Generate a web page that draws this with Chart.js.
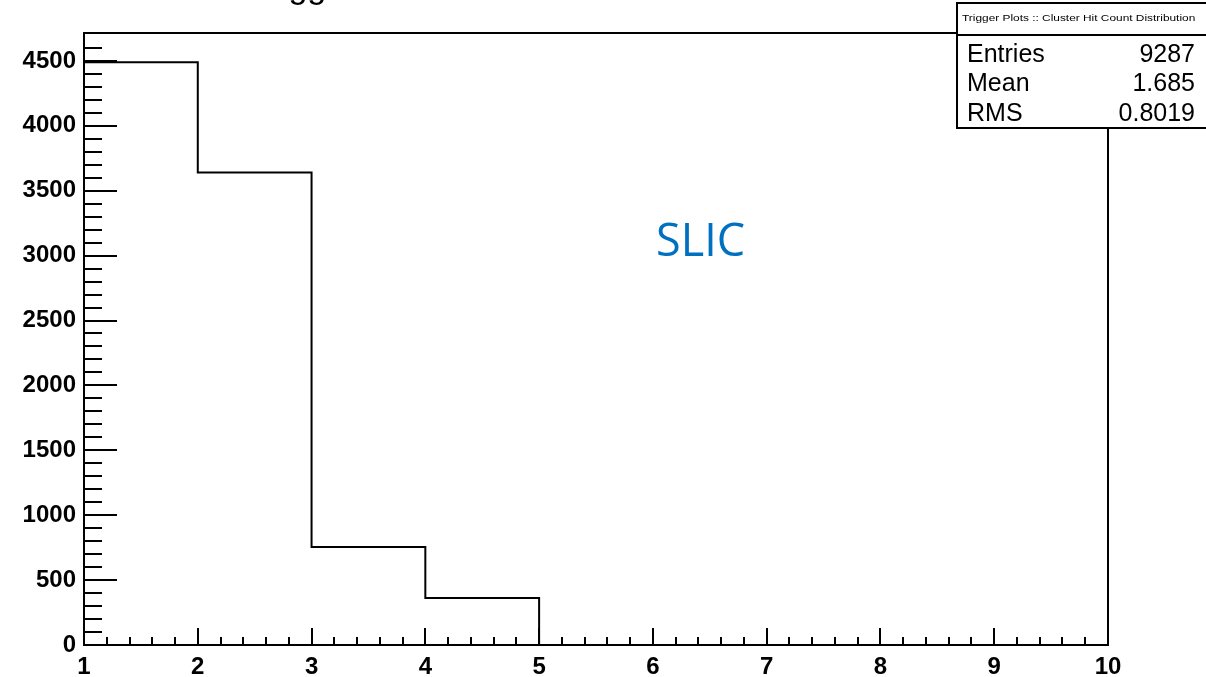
<!DOCTYPE html>
<html>
<head>
<meta charset="utf-8">
<title>Cluster Hit Count Distribution</title>
<script src="https://cdn.jsdelivr.net/npm/chart.js@4.4.1/dist/chart.umd.min.js"></script>
<style>
  html, body { margin: 0; padding: 0; background: #fff; }
  canvas { display: block; }
</style>
</head>
<body>
<canvas id="hist" width="1206" height="677"></canvas>
<script>
// ---- Daten ----
const binEdges  = [1, 2, 3, 4, 5, 6, 7, 8, 9, 10];
const binCounts = [4490, 3640, 755, 362, 0, 0, 0, 0, 0];   // one count per bin

const histTitle  = "Trigger Plots :: Cluster Hit Count Distribution";
const statNames  = ["Entries", "Mean", "RMS"];
const statValues = ["9287", "1.685", "0.8019"];
const tagText    = "SLIC";

const X_MIN = 1, X_MAX = 10;
const Y_MAX = 4715;

const FONT = "'Liberation Sans', Arial, Helvetica, sans-serif";
const isWhole = (v) => Math.abs(v - Math.round(v)) < 1e-6;

// step line: each edge carries the count of the bin starting there
const points = binEdges.map((x, i) => ({ x, y: binCounts[Math.min(i, binCounts.length - 1)] }));

// ---- ROOT-artiger Rahmen, Ticks nach innen, Statistikbox ----
const rootFrame = {
  id: "rootFrame",
  afterDraw(chart) {
    const { ctx, chartArea: a, scales: { x, y } } = chart;
    ctx.save();
    ctx.strokeStyle = "#000";
    ctx.lineWidth = 2;
    ctx.strokeRect(a.left, a.top, a.right - a.left, a.bottom - a.top);

    ctx.beginPath();
    x.ticks.forEach(t => {
      const px = Math.round(x.getPixelForValue(t.value));
      ctx.moveTo(px, a.bottom);
      ctx.lineTo(px, a.bottom - (isWhole(t.value) ? 17 : 8));
    });
    y.ticks.forEach(t => {
      if (t.value > Y_MAX - 50) return;
      const py = Math.round(y.getPixelForValue(t.value));
      const major = Math.round(t.value) % 500 === 0;
      ctx.moveTo(a.left, py);
      ctx.lineTo(a.left + (major ? 33 : 18), py);
    });
    ctx.stroke();

    // title (mostly above the canvas edge)
    ctx.fillStyle = "#000";
    ctx.font = `34px ${FONT}`;
    ctx.textAlign = "left";
    ctx.textBaseline = "alphabetic";
    ctx.fillText(histTitle, 250, -2);

    // stats box
    const bx = 957, by = 3, bw = 260, bh = 125;
    ctx.fillStyle = "#fff";
    ctx.fillRect(bx, by, bw, bh);
    ctx.strokeRect(bx, by, bw, bh);
    ctx.beginPath();
    ctx.moveTo(bx, 35);
    ctx.lineTo(bx + bw, 35);
    ctx.stroke();

    // box header, stretched wide like the ROOT pave
    ctx.fillStyle = "#000";
    ctx.font = `9px ${FONT}`;
    ctx.textBaseline = "middle";
    ctx.save();
    ctx.translate(962, 19);
    ctx.scale(1.32, 1);
    ctx.fillText(histTitle, 0, 0);
    ctx.restore();

    ctx.font = `25px ${FONT}`;
    statNames.forEach((n, i) => {
      const ry = 55 + i * 29.5;
      ctx.textAlign = "left";
      ctx.fillText(n, 967, ry);
      ctx.textAlign = "right";
      ctx.fillText(statValues[i], 1195, ry);
    });

    // label
    ctx.fillStyle = "#0070C0";
    ctx.font = `45px 'Open Sans', 'Noto Sans', sans-serif`;
    ctx.textAlign = "left";
    ctx.textBaseline = "alphabetic";
    ctx.fillText(tagText, 656, 256);
    ctx.restore();
  }
};

// ---- Chart ----
new Chart(document.getElementById("hist").getContext("2d"), {
  type: "line",
  data: {
    datasets: [{
      data: points,
      borderColor: "#000",
      borderWidth: 2,
      pointRadius: 0,
      stepped: true,
      fill: false
    }]
  },
  options: {
    responsive: false,
    animation: false,
    devicePixelRatio: 1,
    layout: { padding: { top: 33, right: 98, left: 0, bottom: 0 } },
    plugins: { legend: { display: false }, tooltip: { enabled: false } },
    scales: {
      x: {
        type: "linear", min: X_MIN, max: X_MAX,
        grid: { display: false, drawTicks: false },
        border: { display: false },
        ticks: {
          stepSize: 0.2, autoSkip: false, maxRotation: 0, padding: 8, color: "#000",
          font: { family: FONT, size: 24, weight: "bold" },
          callback: (v) => isWhole(v) ? String(Math.round(v)) : ""
        },
        afterFit: (s) => { s.height = 32; }
      },
      y: {
        min: 0, max: Y_MAX,
        grid: { display: false, drawTicks: false },
        border: { display: false },
        ticks: {
          stepSize: 100, autoSkip: false, padding: 8, color: "#000",
          font: { family: FONT, size: 24, weight: "bold" },
          callback: (v) => Math.round(v) % 500 === 0 && v <= 4500 ? String(Math.round(v)) : ""
        },
        afterFit: (s) => { s.width = 84; }
      }
    }
  },
  plugins: [rootFrame]
});
</script>
</body>
</html>
